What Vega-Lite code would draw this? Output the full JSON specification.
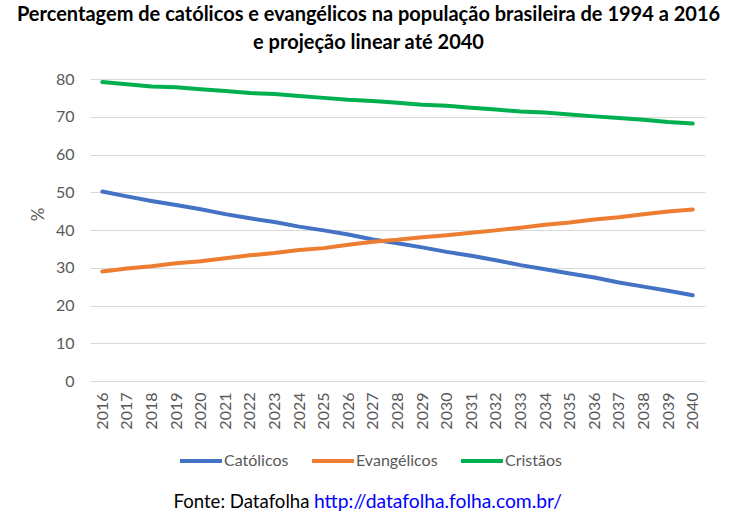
{
  "$schema": "https://vega.github.io/schema/vega-lite/v6.json",
  "width": 615,
  "height": 302,
  "autosize": {"type": "none"},
  "padding": {"left": 90, "top": 79, "right": 33, "bottom": 139},
  "background": "white",
  "config": {
    "font": "Lato",
    "view": {"stroke": null}
  },
  "title": {
    "text": ["Percentagem de católicos e evangélicos na população brasileira de 1994 a 2016", "e projeção linear até 2040"],
    "fontSize": 20,
    "fontWeight": "bold",
    "color": "#000000",
    "anchor": "middle",
    "dx": -29,
    "lineHeight": 28,
    "offset": 18,
    "limit": 740
  },
  "data": {
    "values": [
      {"ano": "2016", "serie": "Católicos", "valor": 50.2},
      {"ano": "2017", "serie": "Católicos", "valor": 48.9},
      {"ano": "2018", "serie": "Católicos", "valor": 47.7},
      {"ano": "2019", "serie": "Católicos", "valor": 46.6},
      {"ano": "2020", "serie": "Católicos", "valor": 45.5},
      {"ano": "2021", "serie": "Católicos", "valor": 44.2},
      {"ano": "2022", "serie": "Católicos", "valor": 43.1},
      {"ano": "2023", "serie": "Católicos", "valor": 42.1},
      {"ano": "2024", "serie": "Católicos", "valor": 40.9},
      {"ano": "2025", "serie": "Católicos", "valor": 39.9},
      {"ano": "2026", "serie": "Católicos", "valor": 38.8},
      {"ano": "2027", "serie": "Católicos", "valor": 37.5},
      {"ano": "2028", "serie": "Católicos", "valor": 36.5},
      {"ano": "2029", "serie": "Católicos", "valor": 35.4},
      {"ano": "2030", "serie": "Católicos", "valor": 34.2},
      {"ano": "2031", "serie": "Católicos", "valor": 33.2},
      {"ano": "2032", "serie": "Católicos", "valor": 32.0},
      {"ano": "2033", "serie": "Católicos", "valor": 30.7},
      {"ano": "2034", "serie": "Católicos", "valor": 29.6},
      {"ano": "2035", "serie": "Católicos", "valor": 28.5},
      {"ano": "2036", "serie": "Católicos", "valor": 27.4},
      {"ano": "2037", "serie": "Católicos", "valor": 26.1},
      {"ano": "2038", "serie": "Católicos", "valor": 25.0},
      {"ano": "2039", "serie": "Católicos", "valor": 23.9},
      {"ano": "2040", "serie": "Católicos", "valor": 22.7},
      {"ano": "2016", "serie": "Evangélicos", "valor": 29.0},
      {"ano": "2017", "serie": "Evangélicos", "valor": 29.8},
      {"ano": "2018", "serie": "Evangélicos", "valor": 30.4},
      {"ano": "2019", "serie": "Evangélicos", "valor": 31.2},
      {"ano": "2020", "serie": "Evangélicos", "valor": 31.7},
      {"ano": "2021", "serie": "Evangélicos", "valor": 32.5},
      {"ano": "2022", "serie": "Evangélicos", "valor": 33.3},
      {"ano": "2023", "serie": "Evangélicos", "valor": 33.9},
      {"ano": "2024", "serie": "Evangélicos", "valor": 34.7},
      {"ano": "2025", "serie": "Evangélicos", "valor": 35.2},
      {"ano": "2026", "serie": "Evangélicos", "valor": 36.1},
      {"ano": "2027", "serie": "Evangélicos", "valor": 36.9},
      {"ano": "2028", "serie": "Evangélicos", "valor": 37.4},
      {"ano": "2029", "serie": "Evangélicos", "valor": 38.1},
      {"ano": "2030", "serie": "Evangélicos", "valor": 38.6},
      {"ano": "2031", "serie": "Evangélicos", "valor": 39.3},
      {"ano": "2032", "serie": "Evangélicos", "valor": 39.9},
      {"ano": "2033", "serie": "Evangélicos", "valor": 40.6},
      {"ano": "2034", "serie": "Evangélicos", "valor": 41.4},
      {"ano": "2035", "serie": "Evangélicos", "valor": 42.0},
      {"ano": "2036", "serie": "Evangélicos", "valor": 42.8},
      {"ano": "2037", "serie": "Evangélicos", "valor": 43.4},
      {"ano": "2038", "serie": "Evangélicos", "valor": 44.2},
      {"ano": "2039", "serie": "Evangélicos", "valor": 44.9},
      {"ano": "2040", "serie": "Evangélicos", "valor": 45.4},
      {"ano": "2016", "serie": "Cristãos", "valor": 79.2},
      {"ano": "2017", "serie": "Cristãos", "valor": 78.6},
      {"ano": "2018", "serie": "Cristãos", "valor": 78.0},
      {"ano": "2019", "serie": "Cristãos", "valor": 77.8},
      {"ano": "2020", "serie": "Cristãos", "valor": 77.3},
      {"ano": "2021", "serie": "Cristãos", "valor": 76.8},
      {"ano": "2022", "serie": "Cristãos", "valor": 76.3},
      {"ano": "2023", "serie": "Cristãos", "valor": 76.0},
      {"ano": "2024", "serie": "Cristãos", "valor": 75.5},
      {"ano": "2025", "serie": "Cristãos", "valor": 75.0},
      {"ano": "2026", "serie": "Cristãos", "valor": 74.5},
      {"ano": "2027", "serie": "Cristãos", "valor": 74.2},
      {"ano": "2028", "serie": "Cristãos", "valor": 73.7},
      {"ano": "2029", "serie": "Cristãos", "valor": 73.2},
      {"ano": "2030", "serie": "Cristãos", "valor": 72.9},
      {"ano": "2031", "serie": "Cristãos", "valor": 72.4},
      {"ano": "2032", "serie": "Cristãos", "valor": 71.9},
      {"ano": "2033", "serie": "Cristãos", "valor": 71.4},
      {"ano": "2034", "serie": "Cristãos", "valor": 71.1},
      {"ano": "2035", "serie": "Cristãos", "valor": 70.6},
      {"ano": "2036", "serie": "Cristãos", "valor": 70.1},
      {"ano": "2037", "serie": "Cristãos", "valor": 69.7},
      {"ano": "2038", "serie": "Cristãos", "valor": 69.2},
      {"ano": "2039", "serie": "Cristãos", "valor": 68.6},
      {"ano": "2040", "serie": "Cristãos", "valor": 68.2}
    ]
  },
  "mark": {"type": "line", "strokeWidth": 4, "strokeCap": "round", "strokeJoin": "round"},
  "encoding": {
    "x": {
      "field": "ano",
      "type": "ordinal",
      "scale": {"type": "point", "padding": 0.5},
      "axis": {
        "title": "Fonte: Datafolha",
        "titleX": 83,
        "titleY": 126,
        "titleAnchor": "start",
        "titleAlign": "left",
        "titleBaseline": "alphabetic",
        "titleAngle": 0,
        "titleFontSize": 18.6,
        "titleFontWeight": "normal",
        "titleColor": "#000000",
        "labelAngle": -90,
        "labelFontSize": 16,
        "labelColor": "#595959",
        "labelPadding": 11,
        "ticks": false,
        "domain": false,
        "grid": false
      }
    },
    "y": {
      "field": "valor",
      "type": "quantitative",
      "scale": {"domain": [0, 80], "nice": false},
      "axis": {
        "title": "%",
        "titleX": -52,
        "titleY": 135,
        "titleAngle": -90,
        "titleAlign": "center",
        "titleBaseline": "middle",
        "titleFontSize": 17,
        "titleFontWeight": "normal",
        "titleColor": "#595959",
        "values": [0, 10, 20, 30, 40, 50, 60, 70, 80],
        "labelFontSize": 16,
        "labelColor": "#595959",
        "labelPadding": 16,
        "ticks": false,
        "domain": false,
        "grid": true,
        "gridColor": "#d9d9d9",
        "gridWidth": 1
      }
    },
    "color": {
      "field": "serie",
      "type": "nominal",
      "scale": {
        "domain": ["Católicos", "Evangélicos", "Cristãos"],
        "range": ["#4472C4", "#ED7D31", "#00B050"]
      },
      "legend": {
        "orient": "none",
        "legendX": 88,
        "legendY": 359,
        "direction": "horizontal",
        "columns": 3,
        "padding": 0,
        "symbolType": "stroke",
        "symbolSize": 1764,
        "symbolStrokeWidth": 4,
        "labelOffset": 0,
        "columnPadding": 15,
        "labelFontSize": 16,
        "labelColor": "#595959",
        "labelLimit": 300,
        "title": "http://datafolha.folha.com.br/",
        "titleOrient": "bottom",
        "titleAnchor": "end",
        "titleFontSize": 19.3,
        "titleFontWeight": "normal",
        "titleColor": "#0000FF",
        "titlePadding": 24,
        "titleLimit": 600
      }
    }
  }
}
